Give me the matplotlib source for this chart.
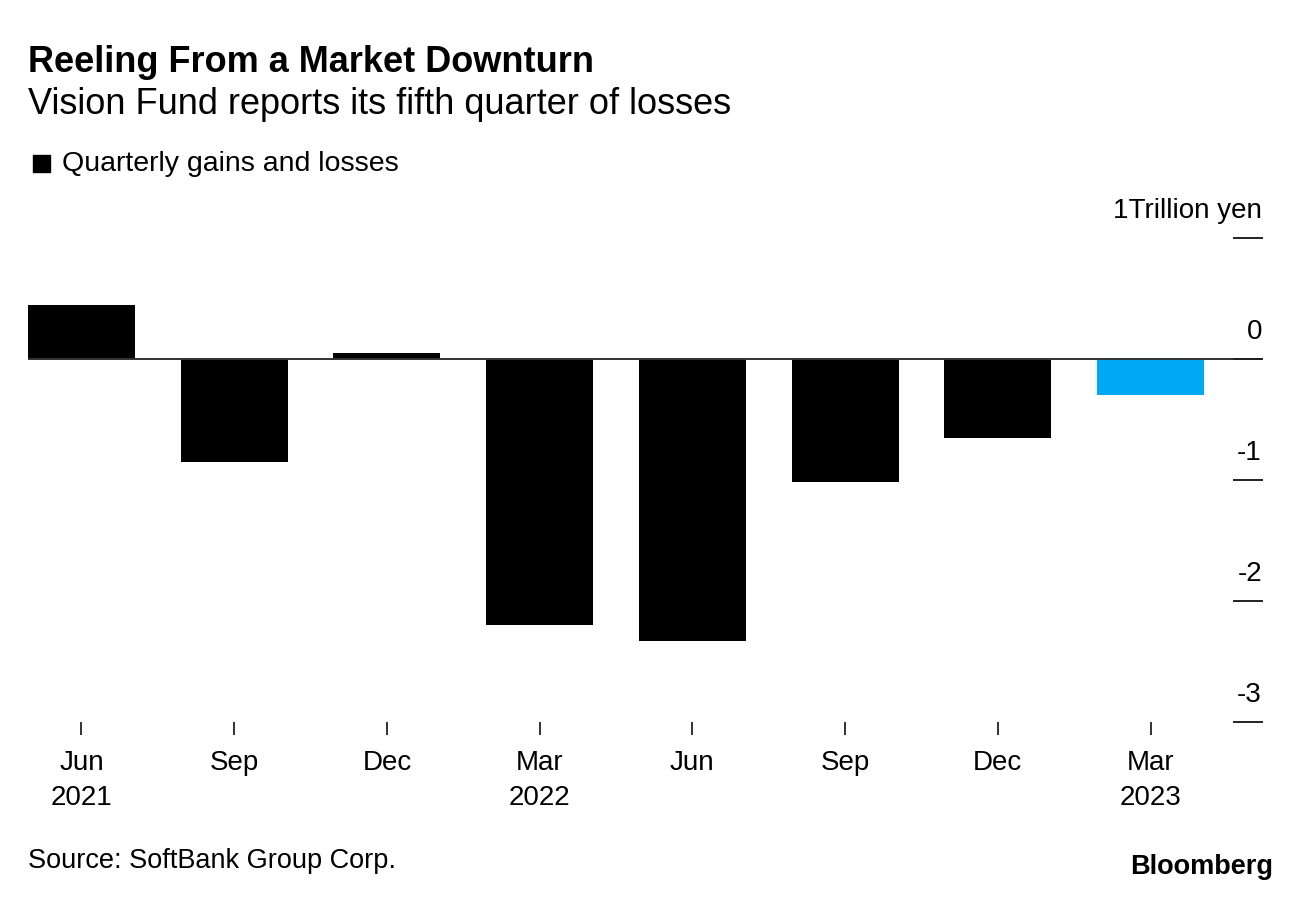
import matplotlib
matplotlib.use("Agg")
import matplotlib.pyplot as plt
import matplotlib.transforms as mtransforms
from matplotlib.patches import Rectangle

plt.rcParams["font.family"] = ["Liberation Sans", "DejaVu Sans"]

# data (trillion yen)
quarters = ["Jun\n2021", "Sep", "Dec", "Mar\n2022", "Jun", "Sep", "Dec", "Mar\n2023"]
gains = [0.45, -0.85, 0.05, -2.20, -2.33, -1.02, -0.65, -0.30]
bar_colors = ["#000000"] * 7 + ["#00A9F4"]
y_ticks = [1, 0, -1, -2, -3]
y_tick_labels = ["1Trillion yen", "0", "-1", "-2", "-3"]

fig = plt.figure(figsize=(12.96, 9.0), dpi=100)
ax = fig.add_axes([28 / 1296, 178 / 900, 1234 / 1296, 484 / 900])

x = list(range(len(quarters)))
ax.bar(x, gains, width=0.70, color=bar_colors, zorder=2)
ax.axhline(0, color="#333333", linewidth=1.4, zorder=3)

ax.set_xlim(-0.35, 7.73)
ax.set_ylim(-3, 1)

for s in ax.spines.values():
    s.set_visible(False)

ax.set_xticks(x)
ax.set_xticklabels(quarters, fontsize=20, linespacing=1.45)
ax.tick_params(axis="x", length=9, width=1.3, color="#222222", pad=11)

# right-side tick marks with labels above them
ax.set_yticks([])
trans = mtransforms.blended_transform_factory(ax.transAxes, ax.transData)
for v, lab in zip(y_ticks, y_tick_labels):
    ax.plot([0.9775, 1.0], [v, v], transform=trans, color="#222222",
            linewidth=1.4, clip_on=False, zorder=3)
    ax.text(1.0, v + 0.22, lab, transform=trans, ha="right", va="center",
            fontsize=20)

# titles and legend
fig.text(28 / 1296, 1 - 62 / 900, "Reeling From a Market Downturn",
         fontsize=26, fontweight="bold", va="center", ha="left")
fig.text(28 / 1296, 1 - 104 / 900, "Vision Fund reports its fifth quarter of losses",
         fontsize=26, va="center", ha="left")
fig.patches.append(Rectangle((33 / 1296, 1 - 172 / 900), 17 / 1296, 17 / 900,
                             transform=fig.transFigure, color="#000000"))
fig.text(62 / 1296, 1 - 164 / 900, "Quarterly gains and losses",
         fontsize=20.5, va="center", ha="left")

fig.text(28 / 1296, 1 - 861 / 900, "Source: SoftBank Group Corp.",
         fontsize=19.5, va="center", ha="left")
fig.text(1273 / 1296, 1 - 867 / 900, "Bloomberg",
         fontsize=19.5, fontweight="bold", va="center", ha="right")

fig.savefig("out.png", dpi=100)
